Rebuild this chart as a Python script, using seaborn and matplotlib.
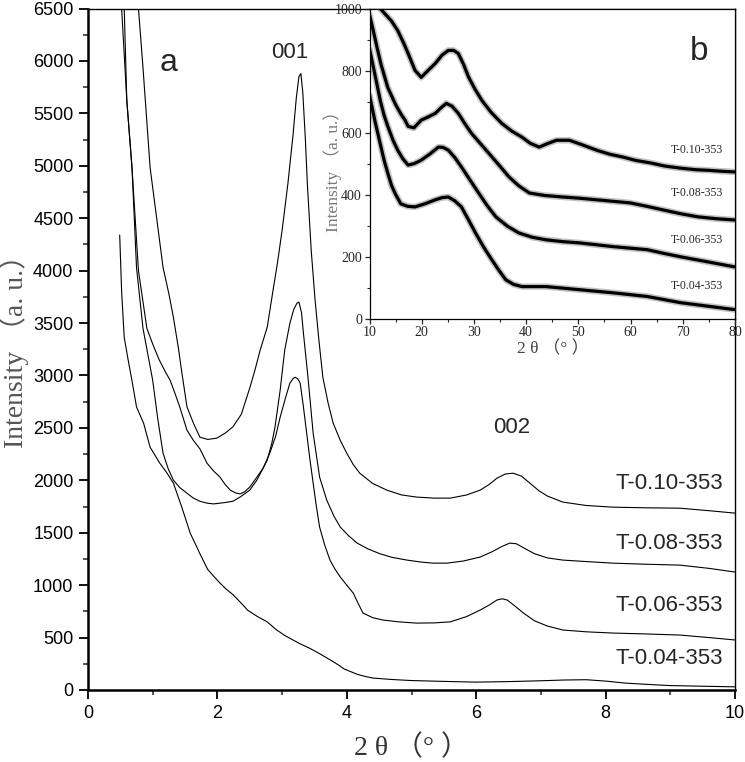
import matplotlib
matplotlib.use("Agg")
import matplotlib.pyplot as plt
from matplotlib.ticker import MultipleLocator
import pandas as pd
import seaborn as sns

# ---------------- data ----------------
series_names = ["T-0.10-353", "T-0.08-353", "T-0.06-353", "T-0.04-353"]

# main panel (a): small-angle XRD
a_x_010 = [0.74, 0.78, 0.85, 0.96, 1.06, 1.16, 1.25, 1.32, 1.40, 1.45, 1.53, 1.63, 1.73,
           1.85, 1.99, 2.12, 2.24, 2.37, 2.50, 2.58, 2.66, 2.77, 2.86, 2.93, 3.00, 3.09,
           3.17, 3.22, 3.26, 3.29, 3.32, 3.36, 3.39, 3.45, 3.51, 3.57, 3.63, 3.71, 3.79,
           3.90, 4.00, 4.10, 4.20, 4.40, 4.62, 4.85, 5.08, 5.35, 5.60, 5.85, 6.06, 6.20,
           6.32, 6.45, 6.57, 6.70, 6.83, 6.97, 7.10, 7.34, 7.70, 8.11, 8.60, 9.15, 9.60,
           10.0]
a_y_010 = [6800, 6500, 5937, 4984, 4508, 4031, 3780, 3555, 3250, 3030, 2700, 2544, 2411,
           2390, 2402, 2450, 2510, 2630, 2880, 3050, 3240, 3460, 3812, 4080, 4384, 4832,
           5300, 5650, 5850, 5880, 5700, 5250, 4832, 4193, 3717, 3330, 2983, 2740, 2544,
           2380, 2258, 2150, 2068, 1970, 1906, 1860, 1840, 1830, 1830, 1860, 1906, 1960,
           2020, 2060, 2068, 2040, 1973, 1900, 1850, 1792, 1760, 1744, 1738, 1734, 1710,
           1687]

a_x_008 = [0.54, 0.56, 0.60, 0.68, 0.78, 0.91, 1.00, 1.10, 1.20, 1.27, 1.35, 1.42, 1.53,
           1.63, 1.73, 1.84, 1.94, 2.04, 2.12, 2.20, 2.28, 2.35, 2.42, 2.50, 2.61, 2.70,
           2.77, 2.84, 2.89, 2.97, 3.04, 3.12, 3.18, 3.23, 3.26, 3.30, 3.33, 3.40, 3.48,
           3.58, 3.69, 3.80, 3.90, 4.03, 4.16, 4.33, 4.51, 4.70, 4.93, 5.15, 5.33, 5.55,
           5.80, 6.06, 6.25, 6.40, 6.52, 6.62, 6.75, 6.90, 7.10, 7.34, 7.70, 8.11, 8.60,
           9.15, 9.60, 10.0]
a_y_008 = [6600, 6500, 5623, 4984, 4000, 3450, 3300, 3150, 3030, 2954, 2820, 2697, 2478,
           2380, 2300, 2163, 2090, 2030, 1960, 1906, 1880, 1870, 1890, 1935, 2030, 2110,
           2192, 2350, 2506, 2859, 3240, 3497, 3630, 3690, 3700, 3600, 3402, 2983, 2449,
           2030, 1811, 1660, 1553, 1470, 1401, 1345, 1300, 1265, 1239, 1220, 1210, 1210,
           1230, 1268, 1320, 1370, 1401, 1395, 1350, 1300, 1260, 1239, 1225, 1210, 1200,
           1191, 1160, 1125]

a_x_006 = [0.50, 0.52, 0.60, 0.68, 0.75, 0.85, 1.00, 1.08, 1.16, 1.24, 1.32, 1.42, 1.53,
           1.63, 1.73, 1.84, 1.94, 2.04, 2.14, 2.24, 2.35, 2.50, 2.61, 2.71, 2.81, 2.90,
           2.97, 3.05, 3.12, 3.17, 3.20, 3.24, 3.28, 3.33, 3.38, 3.43, 3.48, 3.53, 3.58,
           3.66, 3.74, 3.82, 3.90, 4.00, 4.10, 4.18, 4.25, 4.40, 4.56, 4.80, 5.08, 5.35,
           5.60, 5.85, 6.06, 6.20, 6.32, 6.40, 6.48, 6.60, 6.73, 6.90, 7.10, 7.34, 7.70,
           8.11, 8.60, 9.15, 9.60, 10.0]
a_y_006 = [6800, 6500, 5623, 4984, 4031, 3450, 2954, 2580, 2259, 2110, 2001, 1930, 1877,
           1830, 1800, 1782, 1775, 1782, 1790, 1800, 1840, 1906, 2001, 2120, 2259, 2420,
           2602, 2780, 2926, 2970, 2983, 2970, 2926, 2700, 2449, 2200, 1973, 1750, 1553,
           1380, 1239, 1150, 1077, 1000, 924, 820, 734, 690, 667, 650, 638, 640,
           650, 700, 762, 810, 858, 870, 858, 800, 734, 660, 610, 572, 555,
           543, 535, 524, 500, 477]

a_x_004 = [0.49, 0.52, 0.56, 0.62, 0.68, 0.75, 0.86, 0.96, 1.11, 1.22, 1.32, 1.45, 1.58,
           1.73, 1.85, 1.95, 2.04, 2.14, 2.24, 2.35, 2.47, 2.62, 2.77, 2.90, 3.04, 3.16,
           3.28, 3.42, 3.57, 3.68, 3.79, 3.88, 3.96, 4.06, 4.16, 4.28, 4.40, 4.70, 5.00,
           5.50, 6.00, 6.50, 7.00, 7.35, 7.70, 8.00, 8.30, 8.60, 9.00, 9.50, 10.0]
a_y_004 = [4340, 3800, 3364, 3150, 2950, 2700, 2544, 2316, 2163, 2070, 1973, 1744, 1496,
           1300, 1150, 1080, 1020, 960, 910, 840, 760, 700, 650, 580, 520, 480,
           440, 400, 350, 310, 270, 235, 200, 175, 150, 130, 114, 100, 90,
           82, 75, 80, 88, 95, 98, 85, 66, 55, 42, 36, 30]

# inset panel (b): wide-angle XRD
b_x_010 = [10.0, 11.5, 12.9, 14.2, 15.4, 16.5, 17.4, 18.7, 19.9, 21.2, 22.6, 23.9, 25.1,
           26.1, 27.0, 28.0, 29.0, 30.2, 31.5, 33.3, 35.3, 37.2, 39.2, 40.8, 42.5, 44.2,
           45.8, 48.3, 50.8, 53.5, 56.0, 58.5, 61.0, 63.8, 66.5, 69.6, 72.5, 75.0, 77.5,
           79.8]
b_y_010 = [1060, 1010, 984, 960, 929, 890, 855, 801, 778, 800, 823, 850, 865,
           865, 855, 820, 778, 740, 704, 665, 630, 605, 585, 565, 553, 565,
           575, 575, 560, 543, 530, 521, 510, 502, 492, 485, 480, 478, 475,
           473]

b_x_008 = [10.0, 10.7, 11.5, 12.2, 13.5, 15.0, 16.0, 16.8, 17.4, 18.5, 19.9, 21.2, 22.6,
           23.7, 24.7, 25.8, 27.0, 28.2, 29.5, 31.2, 32.8, 34.8, 36.7, 38.6, 40.6, 43.5,
           47.0, 50.3, 53.5, 56.7, 59.9, 63.1, 66.3, 69.6, 72.9, 76.4, 79.8]
b_y_008 = [980, 930, 870, 820, 745, 690, 660, 640, 620, 615, 640, 650, 662,
           680, 694, 685, 662, 630, 598, 565, 534, 495, 457, 428, 405, 397,
           392, 388, 383, 378, 373, 362, 350, 338, 328, 322, 318]

b_x_006 = [10.0, 11.0, 12.1, 12.8, 13.5, 14.5, 15.4, 16.4, 17.4, 18.6, 19.9, 21.5, 23.2,
           24.1, 25.1, 26.3, 27.6, 29.2, 30.9, 32.5, 34.2, 36.4, 38.6, 41.2, 43.8, 47.0,
           50.2, 53.4, 56.6, 59.9, 63.2, 66.4, 69.6, 74.7, 79.8]
b_y_006 = [870, 790, 700, 655, 620, 575, 543, 515, 495, 500, 511, 530, 553,
           552, 543, 520, 489, 448, 405, 365, 328, 298, 276, 262, 254, 248,
           244, 238, 232, 227, 222, 210, 199, 183, 167]

b_x_004 = [10.0, 11.0, 12.1, 12.8, 13.5, 14.2, 15.0, 16.0, 17.3, 18.7, 20.6, 22.6, 23.9,
           25.1, 26.3, 27.6, 28.9, 30.3, 31.8, 33.4, 34.8, 36.1, 37.6, 39.2, 41.5, 43.8,
           47.0, 50.2, 53.4, 56.6, 59.9, 63.2, 66.4, 69.6, 74.7, 79.8]
b_y_004 = [720, 640, 560, 510, 469, 430, 400, 370, 362, 360, 370, 383, 390,
           392, 380, 360, 320, 276, 232, 190, 155, 125, 110, 103, 103, 103,
           98, 93, 88, 83, 77, 71, 61, 51, 40, 29]

# label anchors (data coordinates)
a_label_y = [1973, 1401, 810, 305]
b_label_y = [543, 405, 253, 105]


def frame(xs, ys):
    parts = []
    for name, x, y in zip(series_names, xs, ys):
        parts.append(pd.DataFrame({"two_theta": x, "intensity": y, "sample": name}))
    return pd.concat(parts, ignore_index=True)


df_a = frame([a_x_010, a_x_008, a_x_006, a_x_004], [a_y_010, a_y_008, a_y_006, a_y_004])
df_b = frame([b_x_010, b_x_008, b_x_006, b_x_004], [b_y_010, b_y_008, b_y_006, b_y_004])

# ---------------- style ----------------
sns.set_style("ticks")
plt.rcParams["font.family"] = ["Liberation Sans", "DejaVu Sans"]
SERIF = ["Liberation Serif", "Noto Sans CJK SC", "DejaVu Serif"]

W, H = 745, 762
fig = plt.figure(figsize=(W / 100, H / 100), dpi=100)
ax = fig.add_axes([0.1181, 0.0945, 0.8685, 0.8943])
ins = fig.add_axes([0.496, 0.582, 0.4906, 0.4068])

# ---------------- main panel ----------------
sns.lineplot(data=df_a, x="two_theta", y="intensity", units="sample", estimator=None,
             sort=False, color="black", lw=0.8, ax=ax, legend=False)
ax.set_xlim(0, 10)
ax.set_ylim(0, 6500)
ax.xaxis.set_major_locator(MultipleLocator(2))
ax.xaxis.set_minor_locator(MultipleLocator(1))
ax.yaxis.set_major_locator(MultipleLocator(500))
ax.yaxis.set_minor_locator(MultipleLocator(250))
ax.tick_params(which="major", direction="out", length=6.5, width=1.3, labelsize=13,
               pad=4, colors="black")
ax.tick_params(which="minor", direction="out", length=3.5, width=1.1)
ax.set_xlabel("")
ax.set_ylabel("")
for s in ["left", "bottom"]:
    ax.spines[s].set_linewidth(1.8)
for s in ["top", "right"]:
    ax.spines[s].set_linewidth(1.0)
for s in ax.spines.values():
    s.set_color("black")

ax.text(1.24, 5985, "a", fontsize=23, ha="center", va="center")
ax.text(3.12, 6080, "001", fontsize=16, ha="center", va="center")
ax.text(6.55, 2506, "002", fontsize=16, ha="center", va="center")
for name, yv in zip(series_names, a_label_y):
    ax.text(9.81, yv, name, fontsize=16, ha="right", va="center")

fig.text(14 / W, 1 - 345 / H, "Intensity （a. u.）", rotation=90, ha="center",
         va="center", fontsize=20, color="#555555", family=SERIF)
fig.text(411 / W, 1 - 748 / H, "2 θ （° ）", ha="center", va="center",
         fontsize=20, color="#333333", family=SERIF)

# ---------------- inset panel ----------------
ins.set_facecolor("white")
sns.lineplot(data=df_b, x="two_theta", y="intensity", units="sample", estimator=None,
             sort=False, color="#999999", lw=4.6, ax=ins, legend=False, alpha=0.6)
sns.lineplot(data=df_b, x="two_theta", y="intensity", units="sample", estimator=None,
             sort=False, color="black", lw=2.3, ax=ins, legend=False)
ins.set_xlim(10, 80)
ins.set_ylim(0, 1000)
ins.xaxis.set_major_locator(MultipleLocator(10))
ins.xaxis.set_minor_locator(MultipleLocator(5))
ins.yaxis.set_major_locator(MultipleLocator(200))
ins.yaxis.set_minor_locator(MultipleLocator(100))
ins.tick_params(which="major", direction="out", length=3.5, width=0.9, labelsize=10,
                pad=2)
ins.tick_params(which="minor", direction="out", length=2.5, width=0.8)
for lab in ins.get_xticklabels() + ins.get_yticklabels():
    lab.set_family(SERIF)
ins.set_xlabel("")
ins.set_ylabel("")
for s in ins.spines.values():
    s.set_linewidth(0.9)
    s.set_color("black")

ins.text(0.901, 0.86, "b", transform=ins.transAxes, fontsize=24, ha="center", va="center")
for name, yv in zip(series_names, b_label_y):
    ins.text(77.7, yv, name, fontsize=8.5, ha="right", va="center", family=SERIF)

fig.text(333 / W, 1 - 167 / H, "Intensity （a. u.）", rotation=90, ha="center",
         va="center", fontsize=12.5, color="#777777", family=SERIF)
fig.text(553 / W, 1 - 349 / H, "2 θ （° ）", ha="center", va="center",
         fontsize=12.5, color="#444444", family=SERIF)

fig.savefig("out.png", dpi=100)
